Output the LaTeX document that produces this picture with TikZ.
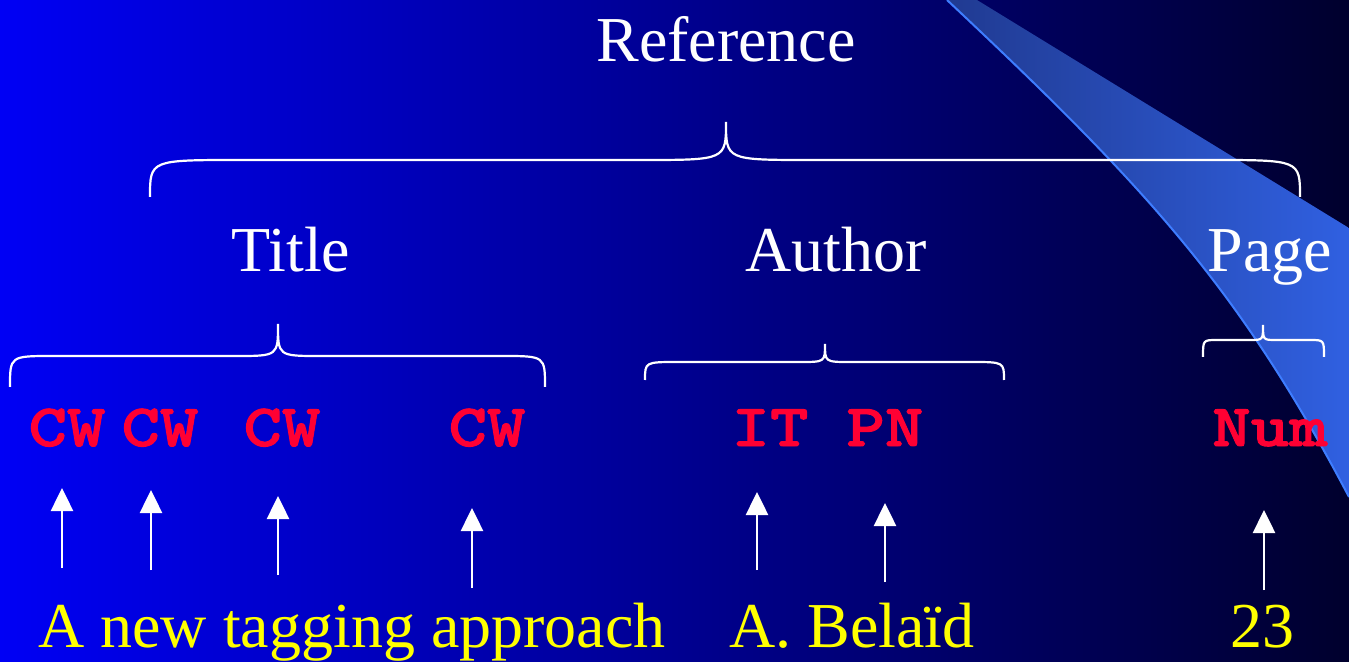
\documentclass[tikz,border=0pt]{standalone}
\usepackage{fontspec}
\setmainfont{Liberation Serif}
\newfontfamily\tagfont{lmmonolt10-bold.otf}[FakeStretch=1.22,FakeBold=1.6]
\usetikzlibrary{arrows.meta}

\definecolor{bgleft}{RGB}{0,0,245}
\definecolor{bgright}{RGB}{0,0,45}
\definecolor{swooshdark}{RGB}{32,58,145}
\definecolor{swooshlight}{RGB}{48,96,225}
\definecolor{swooshedge}{RGB}{62,125,255}
\definecolor{tagred}{RGB}{255,0,51}
\definecolor{wordyellow}{RGB}{255,255,0}

\tikzset{
  heading/.style={white, font=\fontsize{32}{38}\selectfont, inner sep=0pt, anchor=base},
  tag/.style={tagred, font=\fontsize{30}{36}\tagfont, inner sep=0pt, anchor=base},
  word/.style={wordyellow, font=\fontsize{32}{38}\selectfont, inner sep=0pt, anchor=base},
  brace line/.style={white, line width=1.1pt},
  tag arrow/.style={white, line width=1.25pt, -{Triangle[width=11pt,length=11.5pt]}}
}
% (left,middle,right)(end y,flat y,tip y)(corner width,tip width)
\def\bracepath(#1,#2,#3)(#4,#5,#6)(#7,#8){\draw[brace line] (#1,#4) .. controls (#1,#5) and (#1,#5) .. ({#1+#7},#5) -- ({#2-#8},#5) .. controls (#2,#5) and (#2,#5) .. (#2,#6) .. controls (#2,#5) and (#2,#5) .. ({#2+#8},#5) -- ({#3-#7},#5) .. controls (#3,#5) and (#3,#5) .. (#3,#4);}

\begin{document}
\begin{tikzpicture}[x=0.5pt,y=-0.5pt]
		%%%%% background %%%%%
		\shade[left color=bgleft, right color=bgright] (0,0) rectangle (1349,662);
		\useasboundingbox (0,0) rectangle (1349,662);
		
		\shade[left color=swooshdark, right color=swooshlight] (947,0) .. controls (1147,188) and (1239,288) .. (1349,497) -- (1349,228) -- (977,0) -- cycle;
		\draw[swooshedge, line width=1pt] (947,0) .. controls (1147,188) and (1239,288) .. (1349,497);
		
		%%%%% levels %%%%%
		\node[heading] (reference) at (726,62) {Reference};
		\bracepath(150,726,1300)(197,160,122)(90,85)
		
		\node[heading] (title) at (291,272) {Title};
		\node[heading] (author) at (836,272) {Author};
		\node[heading] (page) at (1270,272) {Page};
		
		\bracepath(10,278,545)(387,356,324)(43,42)
		\bracepath(645,825,1004)(380,362,344)(33,25)
		\bracepath(1203,1263,1324)(357,340,325)(14,13)
		
		\node[tag] (cw1) at (67,446) {CW};
		\node[tag] (cw2) at (160,446) {CW};
		\node[tag] (cw3) at (282,446) {CW};
		\node[tag] (cw4) at (487,446) {CW};
		\node[tag] (it) at (770,446) {IT};
		\node[tag] (pn) at (885,446) {PN};
		\node[tag] (num) at (1270,446) {Num};
		
		%%%%% words %%%%%
		\node[word] (titleword) at (352,647) {A new tagging approach};
		\node[word] (authorword) at (852,647) {A. Belaïd};
		\node[word] (pageword) at (1262,647) {23};
		
		\coordinate (cw1 foot) at (62,568);   \coordinate (cw1 tip) at (62,488);
		\coordinate (cw2 foot) at (151,570);  \coordinate (cw2 tip) at (151,490);
		\coordinate (cw3 foot) at (278,575);  \coordinate (cw3 tip) at (278,496);
		\coordinate (cw4 foot) at (472,588);  \coordinate (cw4 tip) at (472,508);
		\coordinate (it foot) at (757,570);   \coordinate (it tip) at (757,492);
		\coordinate (pn foot) at (885,582);   \coordinate (pn tip) at (885,503);
		\coordinate (num foot) at (1264,590); \coordinate (num tip) at (1264,510);
		
		\draw[tag arrow] (cw1 foot) -- (cw1 tip);
		\draw[tag arrow] (cw2 foot) -- (cw2 tip);
		\draw[tag arrow] (cw3 foot) -- (cw3 tip);
		\draw[tag arrow] (cw4 foot) -- (cw4 tip);
		\draw[tag arrow] (it foot) -- (it tip);
		\draw[tag arrow] (pn foot) -- (pn tip);
		\draw[tag arrow] (num foot) -- (num tip);
\end{tikzpicture}
\end{document}
